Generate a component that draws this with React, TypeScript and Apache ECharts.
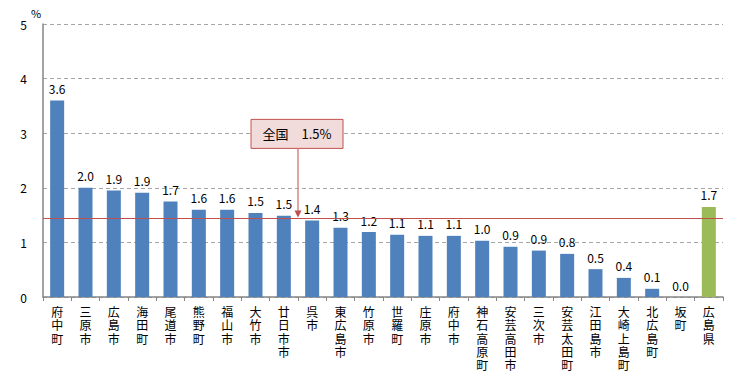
import React, { useEffect, useRef } from "react";
import * as echarts from "echarts";

const categories = ["府中町", "三原市", "広島市", "海田町", "尾道市", "熊野町", "福山市", "大竹市", "廿日市市", "呉市", "東広島市", "竹原市", "世羅町", "庄原市", "府中市", "神石高原町", "安芸高田市", "三次市", "安芸太田町", "江田島市", "大崎上島町", "北広島町", "坂町", "広島県"];
const values = [3.6, 2.0, 1.95, 1.91, 1.75, 1.6, 1.6, 1.54, 1.49, 1.4, 1.27, 1.19, 1.14, 1.12, 1.12, 1.03, 0.92, 0.85, 0.79, 0.51, 0.35, 0.15, 0.0, 1.65];
const labels = ["3.6", "2.0", "1.9", "1.9", "1.7", "1.6", "1.6", "1.5", "1.5", "1.4", "1.3", "1.2", "1.1", "1.1", "1.1", "1.0", "0.9", "0.9", "0.8", "0.5", "0.4", "0.1", "0.0", "1.7"];
const nationalValue = 1.44;
const nationalLabel = "全国　1.5%";
const yTicks = [0, 1, 2, 3, 4, 5];

const FONT = "'Noto Sans CJK JP', 'Noto Sans', sans-serif";

export default function App() {
  const ref = useRef<HTMLDivElement>(null);
  useEffect(() => {
    if (!ref.current) return;
    document.body.style.margin = "0";
    const chart = echarts.init(ref.current, undefined, { renderer: "svg" });
    const n = categories.length;
    chart.setOption({
      animation: false,
      grid: { left: 43, right: 33, top: 24, bottom: 82 },
      xAxis: {
        type: "category",
        data: categories,
        axisLine: { lineStyle: { color: "#868686", width: 1.5 } },
        axisTick: { show: true, length: 4, lineStyle: { color: "#868686" } },
        axisLabel: {
          interval: 0,
          margin: 8,
          fontSize: 12,
          lineHeight: 13.3,
          color: "#000",
          fontFamily: FONT,
          verticalAlign: "top",
          formatter: (v: string) => v.split("").join("\n"),
        },
      },
      yAxis: {
        type: "value",
        min: 0,
        max: 5,
        interval: 1,
        name: "%",
        nameGap: 4,
        nameTextStyle: { color: "#000", fontSize: 11, fontFamily: FONT, padding: [0, 0, 0, -14] },
        axisLine: { show: true, lineStyle: { color: "#868686", width: 1.5 } },
        axisTick: { show: false },
        axisLabel: {
          margin: 16,
          fontSize: 12,
          color: "#000",
          fontFamily: FONT,
          formatter: (v: number) => (yTicks.includes(v) ? String(v) : ""),
        },
        splitLine: { lineStyle: { color: "#a6a6a6", type: [4, 3] } },
      },
      series: [
        {
          type: "bar",
          barWidth: 14,
          data: values.map((v, i) => ({
            value: v,
            itemStyle: { color: i === n - 1 ? "#9bbb59" : "#4f81bd" },
          })),
          label: {
            show: true,
            position: "top",
            distance: 6,
            fontSize: 12,
            color: "#000",
            fontFamily: FONT,
            formatter: (p: any) => labels[p.dataIndex],
          },
          markLine: {
            silent: true,
            symbol: "none",
            label: { show: false },
            lineStyle: { color: "#c0504d", width: 1, type: "solid" },
            data: [{ yAxis: nationalValue }],
          },
        },
      ],
    });

    const x1 = chart.convertToPixel({ xAxisIndex: 0 }, categories[8]) as number;
    const x2 = chart.convertToPixel({ xAxisIndex: 0 }, categories[9]) as number;
    const ax = (x1 + x2) / 2;
    const ly = chart.convertToPixel({ yAxisIndex: 0 }, nationalValue) as number;
    const boxW = 92;
    const boxH = 29;
    const boxTop = ly - 99;
    const boxLeft = ax - 47;
    chart.setOption({
      graphic: [
        {
          type: "rect",
          shape: { x: boxLeft, y: boxTop, width: boxW, height: boxH },
          style: { fill: "#f2dcdb", stroke: "#c0504d", lineWidth: 1 },
          z: 10,
        },
        {
          type: "text",
          x: boxLeft + boxW / 2,
          y: boxTop + boxH / 2,
          style: {
            text: nationalLabel,
            fill: "#000",
            font: `13px ${FONT}`,
            align: "center",
            verticalAlign: "middle",
          },
          z: 11,
        },
        {
          type: "line",
          shape: { x1: ax, y1: boxTop + boxH, x2: ax, y2: ly - 5 },
          style: { stroke: "#d9868a", lineWidth: 1.5 },
          z: 10,
        },
        {
          type: "polygon",
          shape: { points: [[ax - 3.5, ly - 8], [ax + 3.5, ly - 8], [ax, ly - 1]] },
          style: { fill: "#c0504d" },
          z: 10,
        },
      ],
    });
    return () => chart.dispose();
  }, []);
  return <div ref={ref} style={{ width: 756, height: 379 }} />;
}
